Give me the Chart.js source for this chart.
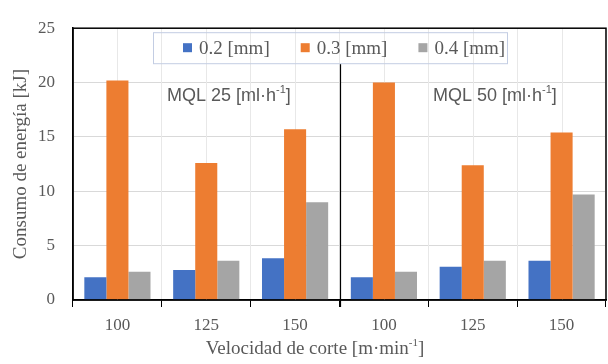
<!DOCTYPE html>
<html>
<head>
<meta charset="utf-8">
<script src="https://cdn.jsdelivr.net/npm/chart.js@4.4.1/dist/chart.umd.min.js"></script>
<style>
  html, body { margin: 0; padding: 0; background: #fff; }
  #wrap { width: 608px; height: 364px; }
</style>
</head>
<body>
<div id="wrap"><canvas id="energyChart"></canvas></div>
<script>
// Velocidades de corte (dos bloques: MQL 25 y MQL 50)
const velocidades = ['100', '125', '150', '100', '125', '150'];
// Consumo de energía [kJ] por avance
const avance02 = [2.1, 2.75, 3.85, 2.1, 3.05, 3.6];
const avance03 = [20.2, 12.6, 15.7, 20.0, 12.4, 15.4];
const avance04 = [2.6, 3.6, 9.0, 2.6, 3.6, 9.7];
const yTicks = [0, 5, 10, 15, 20, 25];
const serieNombres = ['0.2 [mm]', '0.3 [mm]', '0.4 [mm]'];
const serieColores = ['#4472C4', '#ED7D31', '#A5A5A5'];
const grupos = ['MQL 25', 'MQL 50'];

const gris = '#595959';
const serif = "'Liberation Serif', 'Times New Roman', serif";
const sans = "'Liberation Sans', Arial, sans-serif";

// texto con superíndice: [antes, sup, después]
function textoSup(ctx, partes, x, y, size, family, align) {
    const fBig = size + 'px ' + family;
    const fSmall = Math.round(size * 0.6) + 'px ' + family;
    ctx.font = fBig;
    const w1 = ctx.measureText(partes[0]).width;
    const w3 = ctx.measureText(partes[2]).width;
    ctx.font = fSmall;
    const w2 = ctx.measureText(partes[1]).width;
    const x0 = align === 'center' ? x - (w1 + w2 + w3) / 2 : x;
    ctx.textAlign = 'left';
    ctx.textBaseline = 'middle';
    ctx.fillStyle = gris;
    ctx.font = fBig;
    ctx.fillText(partes[0], x0, y);
    ctx.font = fSmall;
    ctx.fillText(partes[1], x0 + w1, y - size * 0.32);
    ctx.font = fBig;
    ctx.fillText(partes[2], x0 + w1 + w2, y);
}

const extras = {
    id: 'extras',
    beforeDatasetsDraw(chart) {
        // líneas verticales en el centro de cada categoría
        const { ctx, chartArea, scales } = chart;
        ctx.save();
        ctx.strokeStyle = '#e8e8e8';
        ctx.lineWidth = 1;
        velocidades.forEach((v, i) => {
            const x = Math.round(scales.x.getPixelForValue(i)) + 0.5;
            ctx.beginPath();
            ctx.moveTo(x, chartArea.top);
            ctx.lineTo(x, chartArea.bottom);
            ctx.stroke();
        });
        ctx.restore();
    },
    afterDraw(chart) {
        const { ctx, chartArea, scales } = chart;
        const ca = chartArea;
        ctx.save();

        // marco del área de trazado
        ctx.strokeStyle = '#000';
        ctx.lineWidth = 1.5;
        ctx.strokeRect(ca.left, ca.top, ca.right - ca.left, ca.bottom - ca.top);

        // leyenda
        const legTop = ca.top + 4, legBottom = ca.top + 35;
        let x = 183;
        const cy = (legTop + legBottom) / 2;
        ctx.font = '19px ' + serif;
        ctx.textBaseline = 'middle';
        ctx.textAlign = 'left';
        serieNombres.forEach((n, i) => {
            ctx.fillStyle = serieColores[i];
            ctx.fillRect(x, cy - 4.5, 9, 9);
            ctx.fillStyle = gris;
            ctx.fillText(n, x + 16, cy + 1);
            x += 16 + ctx.measureText(n).width + 31;
        });
        ctx.strokeStyle = '#c3cde3';
        ctx.lineWidth = 1;
        ctx.strokeRect(153.5, legTop + 0.5, 354, legBottom - legTop);

        // separador entre bloques MQL
        const xs = scales.x;
        const xd = Math.round((xs.getPixelForValue(2) + xs.getPixelForValue(3)) / 2) + 0.5;
        ctx.strokeStyle = '#000';
        ctx.lineWidth = 1.2;
        ctx.beginPath();
        ctx.moveTo(xd, legBottom + 1);
        ctx.lineTo(xd, ca.bottom + 7);
        ctx.stroke();

        // etiquetas MQL
        textoSup(ctx, [grupos[0] + ' [ml·h', '-1', ']'], 167, 96, 18, sans, 'left');
        textoSup(ctx, [grupos[1] + ' [ml·h', '-1', ']'], 433, 96, 18, sans, 'left');

        // título eje x
        textoSup(ctx, ['Velocidad de corte [m·min', '-1', ']'], 315, 349, 19, serif, 'center');
        ctx.restore();
    }
};

new Chart(document.getElementById('energyChart'), {
    type: 'bar',
    data: {
        labels: velocidades,
        datasets: [
            { label: serieNombres[0], data: avance02, backgroundColor: serieColores[0] },
            { label: serieNombres[1], data: avance03, backgroundColor: serieColores[1] },
            { label: serieNombres[2], data: avance04, backgroundColor: serieColores[2] }
        ]
    },
    options: {
        responsive: true,
        maintainAspectRatio: false,
        animation: false,
        categoryPercentage: 0.745,
        barPercentage: 1.0,
        layout: { padding: { top: 13, right: 2, left: 0, bottom: 0 } },
        plugins: {
            legend: { display: false },
            tooltip: { enabled: false }
        },
        scales: {
            y: {
                min: 0,
                max: 25,
                afterFit: (s) => { s.width = 73; },
                afterBuildTicks: (s) => { s.ticks = yTicks.map(v => ({ value: v })); },
                grid: { color: '#d9d9d9', drawTicks: false },
                border: { color: '#000', width: 1.5 },
                ticks: {
                    padding: 18,
                    color: gris,
                    font: { size: 17, family: serif }
                },
                title: {
                    display: true,
                    text: 'Consumo de energía [kJ]',
                    color: gris,
                    font: { size: 19, family: serif },
                    padding: { top: 10, bottom: 0 }
                }
            },
            x: {
                afterFit: (s) => { s.height = 64; },
                grid: { offset: true, color: '#e8e8e8', tickColor: '#000', tickLength: 7 },
                border: { color: '#000', width: 1.5 },
                ticks: {
                    padding: 8,
                    color: gris,
                    font: { size: 17, family: serif }
                }
            }
        }
    },
    plugins: [extras]
});
</script>
</body>
</html>
